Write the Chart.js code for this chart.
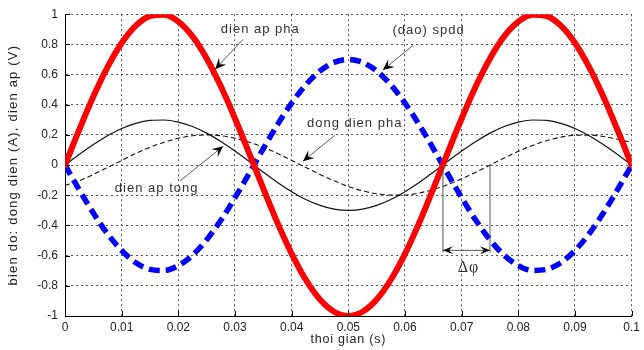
<!DOCTYPE html>
<html><head><meta charset="utf-8">
<script src="https://cdn.jsdelivr.net/npm/chart.js@4"></script>
<style>html,body{margin:0;padding:0;background:#fff}</style>
</head><body>
<canvas id="c" width="644" height="350"></canvas>
<script>
const timeS = [0, 0.0025, 0.005, 0.0075, 0.01, 0.0125, 0.015, 0.0175, 0.02, 0.0225, 0.025, 0.0275, 0.03, 0.0325, 0.035, 0.0375, 0.04, 0.0425, 0.045, 0.0475, 0.05, 0.0525, 0.055, 0.0575, 0.06, 0.0625, 0.065, 0.0675, 0.07, 0.0725, 0.075, 0.0775, 0.08, 0.0825, 0.085, 0.0875, 0.09, 0.0925, 0.095, 0.0975, 0.1];
const dienApPha = [0, 0.233, 0.454, 0.649, 0.809, 0.924, 0.988, 0.997, 0.951, 0.853, 0.707, 0.522, 0.309, 0.079, -0.156, -0.383, -0.588, -0.760, -0.891, -0.972, -1, -0.972, -0.891, -0.760, -0.588, -0.383, -0.156, 0.079, 0.309, 0.522, 0.707, 0.853, 0.951, 0.997, 0.988, 0.924, 0.809, 0.649, 0.454, 0.233, 0];
const daoSpdd = [0, -0.163, -0.318, -0.455, -0.566, -0.647, -0.691, -0.698, -0.666, -0.597, -0.495, -0.366, -0.216, -0.055, 0.109, 0.268, 0.411, 0.532, 0.624, 0.681, 0.7, 0.681, 0.624, 0.532, 0.411, 0.268, 0.109, -0.055, -0.216, -0.366, -0.495, -0.597, -0.666, -0.698, -0.691, -0.647, -0.566, -0.455, -0.318, -0.163, 0];
const dienApTong = [0, 0.070, 0.136, 0.195, 0.243, 0.277, 0.296, 0.299, 0.285, 0.256, 0.212, 0.157, 0.093, 0.024, -0.047, -0.115, -0.176, -0.228, -0.267, -0.292, -0.3, -0.292, -0.267, -0.228, -0.176, -0.115, -0.047, 0.024, 0.093, 0.157, 0.212, 0.256, 0.285, 0.299, 0.296, 0.277, 0.243, 0.195, 0.136, 0.070, 0];
const dongDienPha = [-0.135, -0.104, -0.062, -0.016, 0.031, 0.077, 0.118, 0.152, 0.178, 0.195, 0.2, 0.195, 0.178, 0.152, 0.118, 0.077, 0.031, -0.016, -0.062, -0.104, -0.141, -0.171, -0.190, -0.199, -0.198, -0.185, -0.162, -0.130, -0.091, -0.047, 0, 0.047, 0.091, 0.130, 0.162, 0.185, 0.198, 0.199, 0.190, 0.171, 0.15];

const xTickValues = [0, 0.01, 0.02, 0.03, 0.04, 0.05, 0.06, 0.07, 0.08, 0.09, 0.1];
const xTickLabels = ['0', '0.01', '0.02', '0.03', '0.04', '0.05', '0.06', '0.07', '0.08', '0.09', '0.1'];
const yTickValues = [-1, -0.8, -0.6, -0.4, -0.2, 0, 0.2, 0.4, 0.6, 0.8, 1];
const yTickLabels = ['-1', '-0.8', '-0.6', '-0.4', '-0.2', '0', '0.2', '0.4', '0.6', '0.8', '1'];

const xTitle = 'thoi gian (s)';
const yTitle = 'bien do: dong dien (A), dien ap (V)';

// annotation texts with arrows (anchored in data coordinates)
const notes = [
  {text: 'dien ap pha', tx: 0.0275, ty: 0.90, from: [0.0314, 0.833], to: [0.0265, 0.636]},
  {text: '(dao) spdd', tx: 0.0578, ty: 0.89, from: [0.0614, 0.793], to: [0.0561, 0.630]},
  {text: 'dong dien pha', tx: 0.0427, ty: 0.275, from: [0.0476, 0.197], to: [0.042, 0.026]},
  {text: 'dien ap tong', tx: 0.0088, ty: -0.157, from: [0.0203, -0.105], to: [0.0279, 0.125]}
];
const phaseMarks = [0.0667, 0.075];
const phaseLabel = '\u0394\u03C6';

const FONT = "'Liberation Sans', Arial, sans-serif";
const pts = arr => timeS.map((t, i) => ({x: t, y: arr[i]}));

function arrowHead(ctx, x1, y1, x2, y2, len, half) {
  const ang = Math.atan2(y2 - y1, x2 - x1);
  const c = Math.cos(ang), s = Math.sin(ang);
  const bx = x2 - c * len, by = y2 - s * len;
  const nx = x2 - c * len * 0.6, ny = y2 - s * len * 0.6;
  ctx.beginPath();
  ctx.moveTo(x2, y2);
  ctx.lineTo(bx - s * half, by + c * half);
  ctx.lineTo(nx, ny);
  ctx.lineTo(bx + s * half, by - c * half);
  ctx.closePath();
  ctx.fill();
}

const overlay = {
  id: 'overlay',
  afterDraw(chart) {
    const {ctx, chartArea: a, scales: {x, y}} = chart;
    ctx.save();
    // inward tick marks
    ctx.strokeStyle = '#000';
    ctx.lineWidth = 1;
    ctx.setLineDash([]);
    ctx.beginPath();
    xTickValues.forEach(v => {
      const px = Math.round(x.getPixelForValue(v)) + 0.5;
      ctx.moveTo(px, a.bottom); ctx.lineTo(px, a.bottom - 5);
    });
    yTickValues.forEach(v => {
      const py = Math.round(y.getPixelForValue(v)) + 0.5;
      ctx.moveTo(a.left, py); ctx.lineTo(a.left + 5, py);
    });
    ctx.stroke();

    // annotations
    ctx.font = '13px ' + FONT;
    ctx.letterSpacing = '1px';
    ctx.textBaseline = 'middle';
    ctx.textAlign = 'left';
    notes.forEach(n => {
      ctx.fillStyle = '#333';
      ctx.fillText(n.text, x.getPixelForValue(n.tx), y.getPixelForValue(n.ty));
      const x1 = x.getPixelForValue(n.from[0]), y1 = y.getPixelForValue(n.from[1]);
      const x2 = x.getPixelForValue(n.to[0]), y2 = y.getPixelForValue(n.to[1]);
      ctx.strokeStyle = '#444';
      ctx.lineWidth = 0.9;
      ctx.beginPath(); ctx.moveTo(x1, y1); ctx.lineTo(x2, y2); ctx.stroke();
      ctx.fillStyle = '#000';
      arrowHead(ctx, x1, y1, x2, y2, 11, 5);
    });

    // phase difference marker
    const pxA = x.getPixelForValue(phaseMarks[0]);
    const pxB = x.getPixelForValue(phaseMarks[1]);
    const yTop = y.getPixelForValue(0);
    const yBot = y.getPixelForValue(-0.58);
    const yArr = y.getPixelForValue(-0.565);
    ctx.strokeStyle = '#555';
    ctx.lineWidth = 1;
    ctx.beginPath();
    ctx.moveTo(pxA, yTop); ctx.lineTo(pxA, yBot);
    ctx.moveTo(pxB, yTop); ctx.lineTo(pxB, yBot);
    ctx.moveTo(pxA, yArr); ctx.lineTo(pxB, yArr);
    ctx.stroke();
    ctx.fillStyle = '#000';
    const mid = (pxA + pxB) / 2;
    arrowHead(ctx, mid, yArr, pxA, yArr, 10, 4);
    arrowHead(ctx, mid, yArr, pxB, yArr, 10, 4);
    ctx.font = "16px 'Liberation Serif', 'Times New Roman', serif";
    ctx.letterSpacing = '1px';
    ctx.textAlign = 'center';
    ctx.fillStyle = '#333';
    ctx.fillText(phaseLabel, x.getPixelForValue(0.0712), y.getPixelForValue(-0.68));

    // axis titles
    ctx.fillStyle = '#222';
    ctx.font = '12.5px ' + FONT;
    ctx.letterSpacing = '0.8px';
    ctx.textAlign = 'center';
    ctx.fillText(xTitle, (a.left + a.right) / 2, 340);
    ctx.save();
    ctx.translate(13, (a.top + a.bottom) / 2);
    ctx.rotate(-Math.PI / 2);
    ctx.font = '13px ' + FONT;
    ctx.letterSpacing = '1.2px';
    ctx.fillText(yTitle, 0, 0);
    ctx.restore();
    ctx.restore();
  }
};

new Chart(document.getElementById('c'), {
  type: 'line',
  data: {
    datasets: [
      {data: pts(dienApPha), borderColor: '#ff0000', borderWidth: 6, borderCapStyle: 'round'},
      {data: pts(daoSpdd), borderColor: '#0000ff', borderWidth: 5.5, borderDash: [11, 6]},
      {data: pts(dienApTong), borderColor: '#111', borderWidth: 1.2},
      {data: pts(dongDienPha), borderColor: '#111', borderWidth: 1.1, borderDash: [5, 3]}
    ]
  },
  options: {
    responsive: false,
    animation: false,
    events: [],
    layout: {padding: {top: 11, right: 12, left: 0, bottom: 0}},
    elements: {point: {radius: 0}, line: {cubicInterpolationMode: 'monotone', fill: false}},
    plugins: {legend: {display: false}, tooltip: {enabled: false}},
    scales: {
      x: {
        type: 'linear', min: 0, max: 0.1,
        afterBuildTicks: s => { s.ticks = xTickValues.map(v => ({value: v})); },
        afterFit: s => { s.height = 34; },
        ticks: {
          callback: (v, i) => xTickLabels[i],
          font: {family: FONT, size: 12}, color: '#222', padding: 4, maxRotation: 0, autoSkip: false
        },
        grid: {color: '#555', lineWidth: 1, drawTicks: false},
        border: {display: true, color: '#000', width: 1, dash: [2, 3]}
      },
      y: {
        type: 'linear', min: -1, max: 1,
        afterBuildTicks: s => { s.ticks = yTickValues.map(v => ({value: v})); },
        afterFit: s => { s.width = 65; },
        ticks: {
          callback: (v, i) => yTickLabels[i],
          font: {family: FONT, size: 12}, color: '#222', padding: 7, autoSkip: false
        },
        grid: {color: '#555', lineWidth: 1, drawTicks: false},
        border: {display: true, color: '#000', width: 1, dash: [2, 3]}
      }
    }
  },
  plugins: [overlay]
});
</script>
</body></html>
